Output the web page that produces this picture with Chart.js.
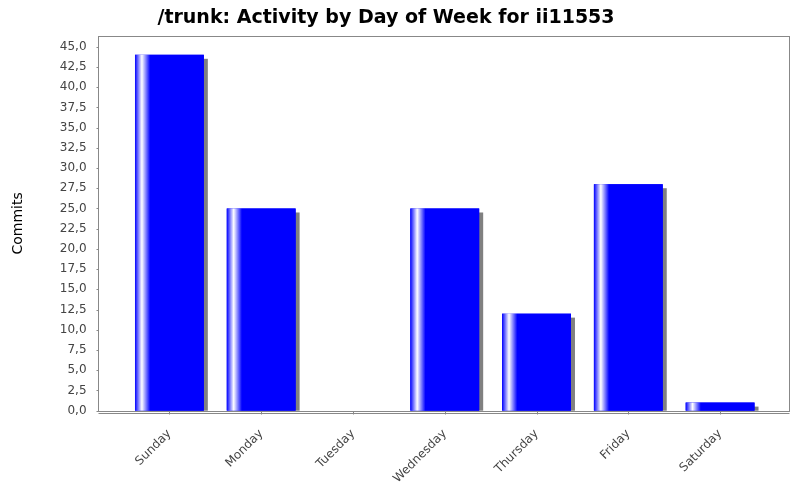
<!DOCTYPE html>
<html><head><meta charset="utf-8">
<script src="https://cdn.jsdelivr.net/npm/chart.js@4"></script>
<style>html,body{margin:0;padding:0;background:#fff}#w{width:800px;height:500px}</style>
</head><body><div id="w"><canvas id="c"></canvas></div>
<script>
const categories=["Sunday","Monday","Tuesday","Wednesday","Thursday","Friday","Saturday"];
const commits=[44,25,0,25,12,28,1];
const fx={
 id:'fx',
 beforeDatasetsDraw(ch){
  const ctx=ch.ctx;ctx.save();ctx.fillStyle='#808080';
  ch.getDatasetMeta(0).data.forEach((b,i)=>{if(!commits[i])return;
   const w=b.width;ctx.fillRect(b.x-w/2+4,b.y+4,w,b.base-b.y-4);});
  ctx.restore();
 },
 afterDatasetsDraw(ch){
  const ctx=ch.ctx;ctx.save();
  ch.getDatasetMeta(0).data.forEach((b,i)=>{if(!commits[i])return;
   const w=b.width,l=b.x-w/2;
   const g=ctx.createLinearGradient(l,0,l+w,0);
   g.addColorStop(0,'#0000ff');g.addColorStop(0.1,'#ffffff');g.addColorStop(0.22,'#0000ff');g.addColorStop(1,'#0000ff');
   ctx.fillStyle=g;ctx.fillRect(l,b.y,w,b.base-b.y);});
  ctx.restore();
 },
 beforeDraw(ch){const a=ch.chartArea,ctx=ch.ctx;ctx.save();ctx.strokeStyle='#888';ctx.lineWidth=1;
  const L=Math.round(a.left-26)+0.5,R=Math.round(a.right+23)+0.5,T=Math.round(a.top)+0.5,B=Math.round(a.bottom)+0.5;
  ctx.strokeRect(L,T,R-L,B-T);
  ctx.beginPath();
  ch.scales.y.ticks.forEach(t=>{const y=Math.round(ch.scales.y.getPixelForValue(t.value))+0.5;ctx.moveTo(L-2,y);ctx.lineTo(L,y);});
  ch.getDatasetMeta(0).data.forEach(b=>{const x=Math.round(b.x)+0.5;ctx.moveTo(x,B);ctx.lineTo(x,B+3);});
  ctx.moveTo(L,B+2);ctx.lineTo(R,B+2);
  ctx.stroke();ctx.restore();}
};
new Chart(document.getElementById('c'),{
 type:'bar',
 data:{labels:categories,datasets:[{data:commits,backgroundColor:'#0000ff',barPercentage:0.75,categoryPercentage:1}]},
 options:{responsive:true,maintainAspectRatio:false,animation:false,
  layout:{padding:{left:6,right:34,top:0,bottom:6}},
  plugins:{legend:{display:false},tooltip:{enabled:false},
   title:{display:true,text:'/trunk: Activity by Day of Week for ii11553',font:{family:'DejaVu Sans',size:19,weight:'bold'},color:'#000',padding:{top:3,bottom:7}}},
  scales:{
   x:{grid:{display:false},border:{display:false},
    ticks:{maxRotation:45,minRotation:45,padding:8,color:'#444',font:{family:'DejaVu Sans',size:12}}},
   y:{min:0,max:46.3,grid:{display:false},border:{display:false},
    title:{display:true,text:'Commits',font:{family:'DejaVu Sans',size:14},color:'#000'},
    afterBuildTicks(s){s.ticks=[];for(let v=0;v<=45;v+=2.5)s.ticks.push({value:v});},
    ticks:{padding:29,color:'#444',font:{family:'DejaVu Sans',size:12},callback:v=>v.toFixed(1).replace('.',',')}}
  }},
 plugins:[fx]
});
</script></body></html>
